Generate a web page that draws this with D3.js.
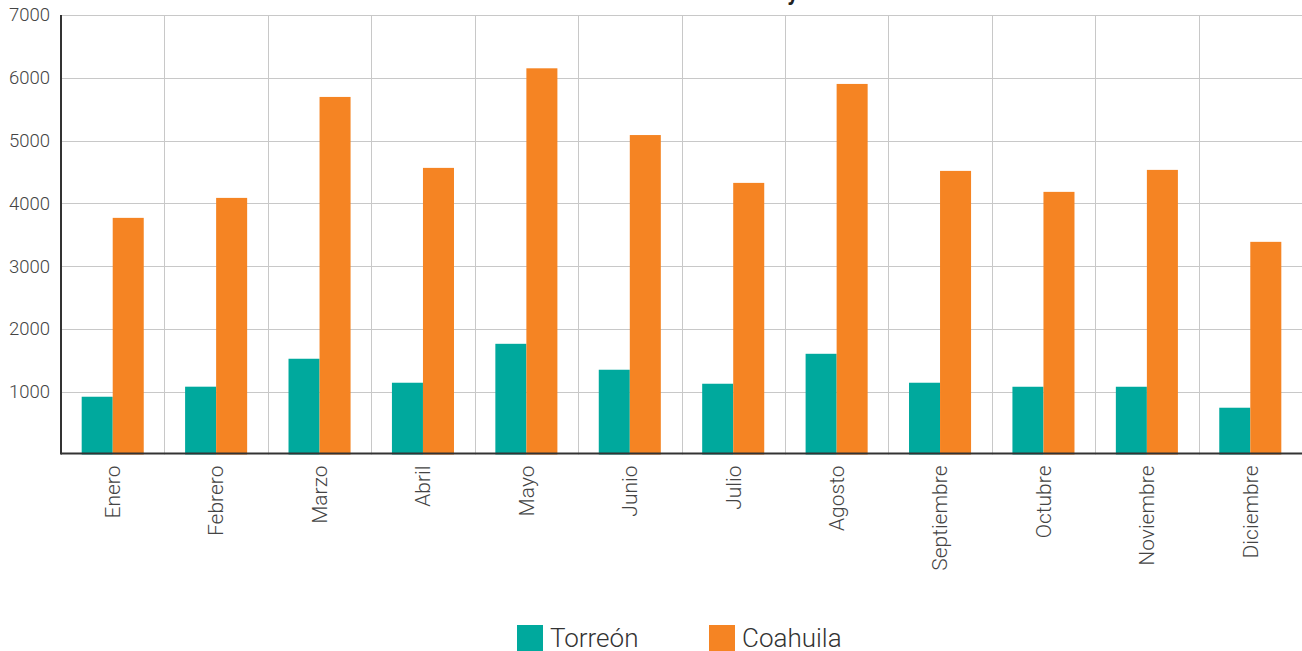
<!DOCTYPE html>
<html><head><meta charset="utf-8">
<script src="https://cdn.jsdelivr.net/npm/d3@7"></script>
<style>body{margin:0;background:#fff;}svg{display:block;}</style>
</head><body>
<svg id="c" width="1302" height="651"></svg>
<script>
const title = "Defunciones mensuales en Torreón y Coahuila 2020";
const months = ["Enero","Febrero","Marzo","Abril","Mayo","Junio","Julio","Agosto","Septiembre","Octubre","Noviembre","Diciembre"];
const seriesNames = ["Torreón","Coahuila"];
const torreon = [920,1080,1525,1143,1763,1350,1127,1604,1143,1079,1079,745];
const coahuila = [3769,4087,5695,4565,6151,5088,4326,5902,4517,4183,4533,3387];
const yTicks = [1000,2000,3000,4000,5000,6000,7000];
const colors = ["#00A99D","#F58423"];

const svg = d3.select("#c");
const font = "Roboto, sans-serif";
const L=61, R=1302, T=15, B=454.5;
const x0 = d3.scaleBand().domain(months).range([L,R]).paddingInner(0.4).paddingOuter(0.2);
const x1 = d3.scaleBand().domain(seriesNames).range([0,x0.bandwidth()]);
const y = d3.scaleLinear().domain([0,7000]).range([B,T]);
const step = x0.step();

svg.append("g").selectAll("line").data(yTicks).join("line")
  .attr("x1",L).attr("x2",R).attr("y1",d=>Math.round(y(d))+0.5).attr("y2",d=>Math.round(y(d))+0.5)
  .attr("stroke","#c8c8c8").attr("stroke-width",1);
svg.append("g").selectAll("line").data(months.slice(1)).join("line")
  .attr("x1",d=>Math.round(x0(d)-step*0.2)+0.5).attr("x2",d=>Math.round(x0(d)-step*0.2)+0.5)
  .attr("y1",T).attr("y2",B)
  .attr("stroke","#c8c8c8").attr("stroke-width",1);

const data = months.map((m,i)=>({m, vals:[torreon[i],coahuila[i]]}));
const g = svg.append("g").selectAll("g").data(data).join("g").attr("transform",d=>`translate(${x0(d.m)},0)`);
g.selectAll("rect").data(d=>d.vals.map((v,j)=>({v,s:seriesNames[j],c:colors[j]}))).join("rect")
  .attr("x",d=>x1(d.s)).attr("width",x1.bandwidth())
  .attr("y",d=>y(d.v)).attr("height",d=>B-y(d.v)).attr("fill",d=>d.c);

const ya = svg.append("g").attr("transform",`translate(${L},0)`)
  .call(d3.axisLeft(y).tickValues(yTicks).tickSize(0).tickPadding(11).tickFormat(d3.format("d")));
ya.select(".domain").attr("stroke","#333").attr("stroke-width",2).attr("d",`M0,${T}V${B}`);
ya.selectAll("text").attr("font-family",font).attr("font-weight",300).attr("font-size",18.5).attr("fill","#444");

const xa = svg.append("g").attr("transform",`translate(0,${B-1})`)
  .call(d3.axisBottom(x0).tickSize(0));
xa.select(".domain").attr("stroke","#333").attr("stroke-width",2).attr("d",`M${L},0H${R}`);
xa.selectAll("text").attr("font-family",font).attr("font-weight",300).attr("font-size",21).attr("fill","#444")
  .attr("text-anchor","end").attr("dy","0.35em").attr("transform","translate(0,12) rotate(-90)").attr("x",0).attr("y",0);

svg.append("text").attr("x",690).attr("y",-0.5).attr("text-anchor","middle")
  .attr("font-family",font).attr("font-weight","bold").attr("font-size",22).attr("fill","#222").text(title);

const lg = svg.append("g");
const lx = [517,709];
seriesNames.forEach((s,i)=>{
  lg.append("rect").attr("x",lx[i]).attr("y",625).attr("width",26).attr("height",26).attr("fill",colors[i]);
  lg.append("text").attr("x",lx[i]+33).attr("y",647).attr("font-family",font).attr("font-weight",300).attr("font-size",26).attr("fill","#333").text(s);
});
</script>
</body></html>
